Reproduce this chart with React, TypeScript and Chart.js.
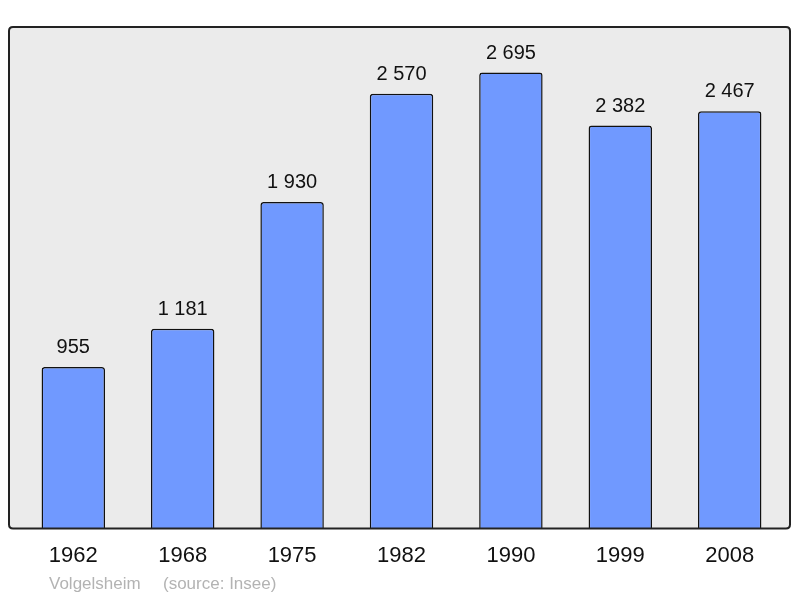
import React, { useEffect, useRef } from "react";
import { Chart, registerables } from "chart.js";

Chart.register(...registerables);

const years = ["1962", "1968", "1975", "1982", "1990", "1999", "2008"];
const population = [955, 1181, 1930, 2570, 2695, 2382, 2467];
const footerPlace = "Volgelsheim";
const footerSource = "(source: Insee)";

const FONT = "'Liberation Sans', Arial, sans-serif";

function fmt(n: number): string {
  return String(n).replace(/\B(?=(\d{3})+(?!\d))/g, " ");
}

function roundRect(ctx: CanvasRenderingContext2D, x: number, y: number, w: number, h: number, r: number) {
  ctx.beginPath();
  ctx.moveTo(x + r, y);
  ctx.lineTo(x + w - r, y);
  ctx.quadraticCurveTo(x + w, y, x + w, y + r);
  ctx.lineTo(x + w, y + h - r);
  ctx.quadraticCurveTo(x + w, y + h, x + w - r, y + h);
  ctx.lineTo(x + r, y + h);
  ctx.quadraticCurveTo(x, y + h, x, y + h - r);
  ctx.lineTo(x, y + r);
  ctx.quadraticCurveTo(x, y, x + r, y);
  ctx.closePath();
}

const boxPlugin = {
  id: "boxPlugin",
  beforeDatasetsDraw(chart: any) {
    const { ctx, chartArea: ca } = chart;
    ctx.save();
    roundRect(ctx, ca.left - 9.6, ca.top, ca.right - ca.left + 15.2, ca.bottom - ca.top, 4);
    ctx.fillStyle = "#ebebeb";
    ctx.fill();
    ctx.restore();
  },
  afterDatasetsDraw(chart: any) {
    const { ctx, chartArea: ca } = chart;
    ctx.save();
    roundRect(ctx, ca.left - 9.6, ca.top, ca.right - ca.left + 15.2, ca.bottom - ca.top, 4);
    ctx.lineWidth = 2;
    ctx.strokeStyle = "#222222";
    ctx.stroke();
    // value labels
    const meta = chart.getDatasetMeta(0);
    ctx.fillStyle = "#111111";
    ctx.font = `20px ${FONT}`;
    ctx.textAlign = "center";
    ctx.textBaseline = "alphabetic";
    meta.data.forEach((bar: any, i: number) => {
      ctx.fillText(fmt(population[i]), bar.x, bar.y - 14);
    });
    // footer
    ctx.fillStyle = "#b3b3b3";
    ctx.font = `17px ${FONT}`;
    ctx.textAlign = "left";
    ctx.fillText(footerPlace, 49, 589);
    ctx.fillText(footerSource, 163, 589);
    ctx.restore();
  },
};

export default function App() {
  const ref = useRef<HTMLCanvasElement | null>(null);
  useEffect(() => {
    if (!ref.current) return;
    const chart = new Chart(ref.current, {
      type: "bar",
      data: {
        labels: years,
        datasets: [
          {
            data: population,
            backgroundColor: "#7099ff",
            borderColor: "#111111",
            borderWidth: 1.5,
            borderRadius: 3,
            borderSkipped: "bottom",
            categoryPercentage: 1,
            barPercentage: 0.58,
          },
        ],
      },
      options: {
        responsive: false,
        animation: false,
        devicePixelRatio: 1,
        layout: { padding: { left: 18.6, right: 15.6, top: 27, bottom: 15 } },
        plugins: { legend: { display: false }, tooltip: { enabled: false }, title: { display: false } },
        scales: {
          x: {
            grid: { display: false, drawTicks: false },
            border: { display: false },
            ticks: { color: "#111111", font: { family: FONT, size: 22 }, padding: 14 },
          },
          y: { display: false, min: 0, max: 2964.5 },
        },
      },
      plugins: [boxPlugin],
    });
    return () => chart.destroy();
  }, []);
  return (
    <div style={{ position: "absolute", left: 0, top: 0, width: 800, height: 598, background: "#fff" }}>
      <canvas ref={ref} width={800} height={598} />
    </div>
  );
}
